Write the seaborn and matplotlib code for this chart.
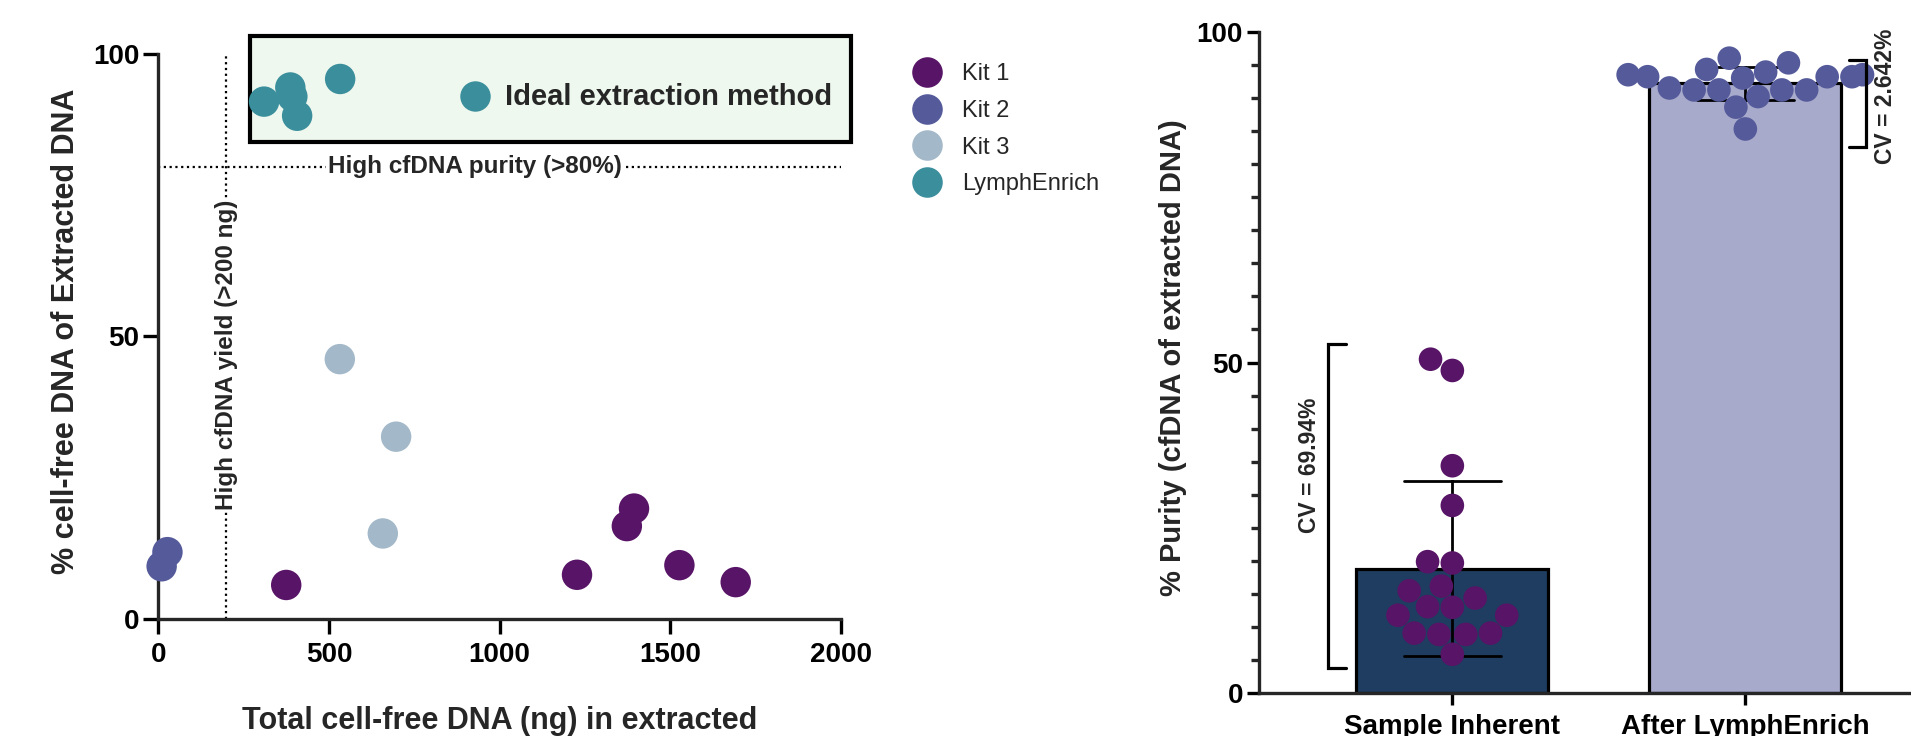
import numpy as np
import pandas as pd
import matplotlib
matplotlib.use("Agg")
import matplotlib.pyplot as plt
from matplotlib.lines import Line2D
from matplotlib.patches import Rectangle
import seaborn as sns

# ---- left panel: yield vs purity per kit ----
kit_names = ["Kit 1", "Kit 2", "Kit 3", "LymphEnrich"]
kit_colors = ["#581466", "#545a9a", "#a3b9c9", "#3b8f9c"]

kit1_yield = [375, 1227, 1373, 1394, 1527, 1692]
kit1_purity = [6.1, 7.9, 16.5, 19.6, 9.6, 6.6]
kit2_yield = [10, 27]
kit2_purity = [9.4, 11.9]
kit3_yield = [532, 697, 658]
kit3_purity = [46.0, 32.3, 15.2]
lymph_yield = [310, 387, 393, 407, 533]
lymph_purity = [91.5, 94.0, 92.4, 89.0, 95.5]

ideal_key = [927, 92.5]  # marker inside the "ideal" box

# ---- right panel: purity per sample ----
groups = ["Sample Inherent", "After LymphEnrich"]
group_colors = ["#1e3d60", "#a8aacb"]
point_colors = ["#581466", "#545a9a"]
sample_inherent = [48.8, 50.5, 34.4, 28.4, 19.7, 19.9, 16.2, 14.4, 15.5,
                   11.8, 13.1, 11.8, 13.0, 8.9, 8.9, 9.1, 9.1, 5.9]
after_lymph = [93.5, 93.0, 93.2, 93.9, 96.0, 93.2, 95.3, 94.3, 93.2,
               93.5, 91.2, 90.2, 91.5, 91.2, 91.2, 91.2, 88.6, 85.3]
cv_labels = ["CV = 69.94%", "CV = 2.642%"]

df_left = pd.DataFrame({
    "yield": kit1_yield + kit2_yield + kit3_yield + lymph_yield,
    "purity": kit1_purity + kit2_purity + kit3_purity + lymph_purity,
    "kit": (["Kit 1"] * len(kit1_yield) + ["Kit 2"] * len(kit2_yield)
            + ["Kit 3"] * len(kit3_yield) + ["LymphEnrich"] * len(lymph_yield)),
})
df_right = pd.DataFrame({
    "group": [groups[0]] * len(sample_inherent) + [groups[1]] * len(after_lymph),
    "purity": sample_inherent + after_lymph,
})

sns.set_style("ticks")
plt.rcParams["font.family"] = ["Liberation Sans", "DejaVu Sans"]
plt.rcParams["axes.linewidth"] = 2.4

fig = plt.figure(figsize=(19.11, 7.36), dpi=100)
ax1 = fig.add_axes([0.0828, 0.1583, 0.3572, 0.769])
ax2 = fig.add_axes([0.6588, 0.058, 0.3465, 0.8989])

# ---- left ----
sns.scatterplot(data=df_left, x="yield", y="purity", hue="kit",
                hue_order=kit_names, palette=kit_colors, s=480,
                linewidth=0, legend=False, ax=ax1, clip_on=False, zorder=4)

ax1.set_xlim(0, 2000)
ax1.set_ylim(0, 100)
ax1.set_xticks([0, 500, 1000, 1500, 2000])
ax1.set_yticks([0, 50, 100])
sns.despine(ax=ax1)
ax1.tick_params(axis="both", length=10.5, width=2.4, labelsize=20,
                colors="black")
ax1.tick_params(axis="x", pad=5.5)
ax1.tick_params(axis="y", pad=3)
for lab in ax1.get_xticklabels() + ax1.get_yticklabels():
    lab.set_fontweight("bold")

ax1.set_xlabel("Total cell-free DNA (ng) in extracted", fontsize=22,
               fontweight="bold")
ax1.set_ylabel("% cell-free DNA of Extracted DNA", fontsize=22,
               fontweight="bold")
ax1.xaxis.set_label_coords(0.5005, -0.153)
ax1.yaxis.set_label_coords(-0.113, 0.509)

dots = (0, (1, 1.6))
ax1.axhline(80, xmin=0, xmax=1, color="black", lw=1.6, ls=dots, zorder=2)
ax1.plot([200, 200], [0, 100], color="black", lw=1.6, ls=dots, zorder=2)
ax1.text(927, 80, "High cfDNA purity (>80%)", ha="center", va="center",
         fontsize=17.5, fontweight="bold", zorder=3,
         bbox=dict(facecolor="white", edgecolor="none", pad=1))
ax1.text(200, 46.7, "High cfDNA yield (>200 ng)", ha="center", va="center",
         rotation=90, fontsize=17.5, fontweight="bold", zorder=3,
         bbox=dict(facecolor="white", edgecolor="none", pad=1))

box = Rectangle((268.6, 84.4), 2030 - 268.6, 103.1 - 84.4,
                facecolor="#eef8ef", edgecolor="black", lw=3,
                clip_on=False, zorder=3)
ax1.add_patch(box)
ax1.scatter([ideal_key[0]], [ideal_key[1]], s=480, color=kit_colors[3],
            linewidth=0, zorder=5, clip_on=False)
ax1.text(1015, 90.9, "Ideal extraction method", ha="left", va="baseline",
         fontsize=21, fontweight="bold", zorder=5)

handles = [Line2D([], [], marker="o", ls="none", markersize=22,
                  markerfacecolor=c, markeredgewidth=0) for c in kit_colors]
fig.legend(handles, kit_names, loc="upper left",
           bbox_to_anchor=(0.4789, 0.914), frameon=False, fontsize=17,
           handlelength=1.0, handletextpad=1.0, labelspacing=0.62,
           borderpad=0, borderaxespad=0)

# ---- right ----
sns.barplot(data=df_right, x="group", y="purity", hue="group",
            order=groups, hue_order=groups, palette=group_colors,
            errorbar="sd", capsize=0.33, width=0.655,
            err_kws={"color": "black", "linewidth": 2},
            edgecolor="black", linewidth=2.3, saturation=1,
            legend=False, ax=ax2)
sns.swarmplot(data=df_right, x="group", y="purity", hue="group",
              order=groups, hue_order=groups, palette=point_colors,
              size=17, linewidth=0, legend=False, ax=ax2, zorder=4)

ax2.set_xlim(-0.66, 1.6)
ax2.set_ylim(0, 100)
ax2.set_yticks([0, 50, 100])
ax2.set_yticks(np.arange(0, 101, 5), minor=True)
sns.despine(ax=ax2)
ax2.tick_params(axis="both", which="major", length=8.5, width=2.4,
                labelsize=20, colors="black", pad=3)
ax2.tick_params(axis="x", pad=6.5)
ax2.tick_params(axis="y", which="minor", length=5.5, width=2.4)
for lab in ax2.get_xticklabels() + ax2.get_yticklabels():
    lab.set_fontweight("bold")
ax2.set_xlabel("")
ax2.set_ylabel("% Purity (cfDNA of extracted DNA)", fontsize=21,
               fontweight="bold")
ax2.yaxis.set_label_coords(-0.109, 0.508)

# CV brackets
brackets = [(-0.423, -0.362, 3.9, 52.8), (1.412, 1.355, 82.6, 95.8)]
for x0, x1, lo, hi in brackets:
    ax2.plot([x1, x0, x0, x1], [lo, lo, hi, hi], color="black", lw=2.3,
             solid_joinstyle="miter", clip_on=False, zorder=5)
ax2.text(-0.488, 34.4, cv_labels[0], rotation=90, ha="center", va="center",
         fontsize=16.5, fontweight="bold")
ax2.text(1.478, 90.3, cv_labels[1], rotation=90, ha="center", va="center",
         fontsize=16.5, fontweight="bold", clip_on=False)

fig.savefig("out.png", dpi=100)
